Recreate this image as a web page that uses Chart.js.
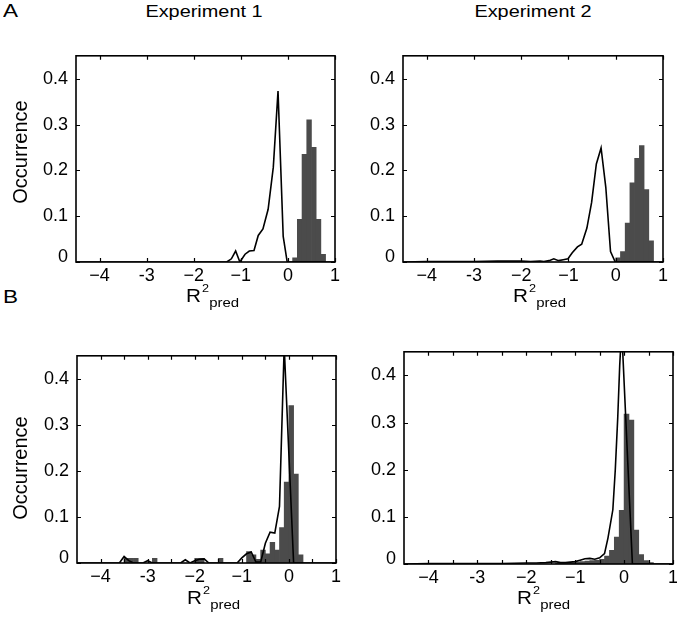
<!DOCTYPE html>
<html><head><meta charset="utf-8">
<script src="https://cdn.jsdelivr.net/npm/chart.js@4/dist/chart.umd.min.js"></script>
<style>
body{margin:0;width:677px;height:629px;background:#fff;position:relative;overflow:hidden;font-family:"Liberation Sans",Arial,sans-serif;color:#000}
.t{position:absolute;white-space:nowrap;line-height:1;transform-origin:left top}
.c{text-align:center;transform-origin:center top}
canvas{position:absolute}
.r2{position:absolute;white-space:nowrap;line-height:1;font-size:18px;transform:scaleX(1.15);transform-origin:left top}
.r2 .s{font-size:11px;position:relative;top:-10px;margin-left:1px}
.r2 .b{font-size:13px;position:relative;top:5px}
.occ{position:absolute;white-space:nowrap;line-height:1;font-size:20px;transform:rotate(-90deg);transform-origin:center center}
</style></head><body>
<script>
// ---------- data ----------
const xTickValues = [-4, -3, -2, -1, 0, 1];
const xTickLabels = ["\u22124", "-3", "\u22122", "\u22121", "0", "1"];
const yTickValues = [0, 0.1, 0.2, 0.3, 0.4];
const yTickLabels = ["0", "0.1", "0.2", "0.3", "0.4"];
const yLabelPositions = [0.011, 0.1, 0.2, 0.3, 0.4]; // the "0" label sits slightly above the axis line
const xMarksA = [-4, -3, -2, -1, 0, 1];
const xMarksB = [-4, -3.5, -3, -2.5, -2, -1.5, -1, -0.5, 0, 0.5, 1];

// Panel A, Experiment 1
const a1BarX = [0.15, 0.25, 0.35, 0.45, 0.55, 0.65, 0.75];
const a1BarY = [0.009, 0.093, 0.235, 0.31, 0.25, 0.093, 0.017];
const a1LineX = [-4.5, -1.3, -1.2, -1.11, -1.02, -0.91, -0.82, -0.72, -0.63, -0.53, -0.42, -0.31, -0.21, -0.1, -0.015, 1];
const a1LineY = [0, 0, 0.007, 0.024, 0, 0.017, 0.024, 0.025, 0.058, 0.072, 0.115, 0.207, 0.373, 0.056, 0, 0];

// Panel A, Experiment 2
const a2BarX = [0.05, 0.15, 0.25, 0.35, 0.45, 0.55, 0.65, 0.75];
const a2BarY = [0.009, 0.023, 0.085, 0.173, 0.226, 0.254, 0.158, 0.046];
const a2LineX = [-4.5, -4.0, -3.5, -3.0, -2.5, -2.0, -1.8, -1.6, -1.52, -1.41, -1.31, -1.21, -1.11, -1.01, -0.92, -0.81, -0.72, -0.61, -0.51, -0.41, -0.31, -0.21, -0.11, -0.01, 1];
const a2LineY = [0, 0.001, 0.001, 0.001, 0.002, 0.002, 0.001, 0.002, 0.001, 0.003, 0.007, 0.003, 0.005, 0.007, 0.02, 0.033, 0.039, 0.074, 0.13, 0.214, 0.249, 0.163, 0.023, 0, 0];

// Panel B, Experiment 1
const b1BarX = [-3.45, -3.35, -3.25, -2.85, -1.95, -1.85, -1.45, -0.85, -0.75, -0.65, -0.55, -0.45, -0.35, -0.25, -0.15, -0.05, 0.05, 0.15, 0.25];
const b1BarY = [0.01, 0.01, 0.01, 0.01, 0.01, 0.01, 0.01, 0.025, 0.018, 0.008, 0.028, 0.02, 0.045, 0.028, 0.077, 0.176, 0.342, 0.193, 0.018];
const b1LineX = [-4.5, -3.6, -3.5, -3.4, -3.3, -3.1, -3.0, -2.9, -2.3, -2.2, -2.1, -2.0, -1.9, -1.8, -1.7, -1.1, -1.0, -0.9, -0.8, -0.7, -0.6, -0.5, -0.4, -0.3, -0.2, -0.1, 0, 0.1, 1];
const b1LineY = [0, 0, 0.014, 0.005, 0, 0, 0.005, 0, 0, 0.007, 0, 0.005, 0.008, 0.009, 0, 0, 0.011, 0.02, 0.024, 0.002, 0.002, 0.043, 0.067, 0.065, 0.123, 0.47, 0.235, 0, 0];

// Panel B, Experiment 2
const b2BarX = [-1.35, -1.25, -1.15, -1.05, -0.95, -0.85, -0.75, -0.65, -0.55, -0.45, -0.35, -0.25, -0.15, -0.05, 0.05, 0.15, 0.25, 0.35, 0.45, 0.55];
const b2BarY = [0.002, 0.002, 0.003, 0.003, 0.004, 0.005, 0.006, 0.007, 0.008, 0.01, 0.017, 0.029, 0.057, 0.114, 0.318, 0.305, 0.072, 0.02, 0.007, 0.003];
const b2LineX = [-4.5, -4.0, -3.5, -3.0, -2.5, -2.0, -1.8, -1.6, -1.4, -1.3, -1.2, -1.1, -1.0, -0.9, -0.8, -0.7, -0.6, -0.5, -0.4, -0.33, -0.23, -0.18, -0.13, -0.09, -0.05, 0.17, 1];
const b2LineY = [0, 0.001, 0.001, 0.001, 0.001, 0.002, 0.002, 0.003, 0.005, 0.003, 0.003, 0.004, 0.005, 0.008, 0.011, 0.012, 0.01, 0.013, 0.022, 0.055, 0.115, 0.2, 0.31, 0.42, 0.5, 0, 0];

// ---------- layout ----------
const FONT = '"Liberation Sans", Arial, sans-serif';
const padL = 50, padT = 6, padR = 12, padB = 30;
const panels = [
  {box:[76, 43, 335, 262], bx:a1BarX, by:a1BarY, lx:a1LineX, ly:a1LineY, marks:xMarksA},
  {box:[403, 43, 663, 262], bx:a2BarX, by:a2BarY, lx:a2LineX, ly:a2LineY, marks:xMarksA},
  {box:[77, 343, 336, 563], bx:b1BarX, by:b1BarY, lx:b1LineX, ly:b1LineY, marks:xMarksB},
  {box:[404, 339, 673, 564], bx:b2BarX, by:b2BarY, lx:b2LineX, ly:b2LineY, marks:xMarksB}
];

const boxPlugin = {
  id: 'box',
  afterDatasetsDraw(chart, args, opts) {
    const {ctx, chartArea: {left, right, top, bottom}, scales: {x, y}} = chart;
    ctx.save();
    ctx.strokeStyle = '#000';
    ctx.lineWidth = 1.2;
    ctx.beginPath();
    opts.xMarks.forEach(v => {
      const px = Math.round(x.getPixelForValue(v)) + 0.5;
      ctx.moveTo(px, bottom); ctx.lineTo(px, bottom - 4);
      ctx.moveTo(px, top); ctx.lineTo(px, top + 4);
    });
    opts.yMarks.forEach(v => {
      const py = Math.round(y.getPixelForValue(v)) + 0.5;
      ctx.moveTo(left, py); ctx.lineTo(left + 4, py);
      ctx.moveTo(right, py); ctx.lineTo(right - 4, py);
    });
    ctx.stroke();
    ctx.lineWidth = 1.6;
    ctx.strokeRect(left, top, right - left, bottom - top);
    ctx.restore();
  }
};

panels.forEach(p => {
  const [L, T, R, B] = p.box;
  const W = (R - L) + padL + padR, H = (B - T) + padT + padB;
  const cv = document.createElement('canvas');
  cv.width = W; cv.height = H;
  cv.style.left = (L - padL) + 'px';
  cv.style.top = (T - padT) + 'px';
  cv.style.width = W + 'px'; cv.style.height = H + 'px';
  document.body.appendChild(cv);
  new Chart(cv, {
    data: {
      datasets: [
        {type: 'line', data: p.lx.map((v, i) => ({x: v, y: p.ly[i]})), borderColor: '#000', borderWidth: 1.6,
         pointRadius: 0, tension: 0, fill: false, order: 0},
        {type: 'bar', data: p.bx.map((v, i) => ({x: v, y: p.by[i]})), backgroundColor: '#4b4b4b',
         borderWidth: 0, barPercentage: 1, categoryPercentage: 1, order: 1}
      ]
    },
    options: {
      responsive: false, animation: false, devicePixelRatio: 1,
      layout: {padding: {left: 0, top: padT, right: padR, bottom: 0}},
      plugins: {legend: {display: false}, tooltip: {enabled: false}, box: {xMarks: p.marks, yMarks: yTickValues}},
      scales: {
        x: {type: 'linear', min: -4.5, max: 1, offset: false, bounds: 'ticks',
            afterBuildTicks: s => { s.ticks = xTickValues.map(v => ({value: v})); },
            afterFit: s => { s.height = padB; },
            ticks: {autoSkip: false, maxRotation: 0, padding: 3, color: '#000', font: {family: FONT, size: 18},
                    callback: (v, i) => xTickLabels[i]},
            grid: {display: false, drawTicks: false, offset: false}, border: {display: false}},
        y: {type: 'linear', min: 0, max: 0.45,
            afterBuildTicks: s => { s.ticks = yLabelPositions.map(v => ({value: v})); },
            afterFit: s => { s.width = padL; },
            ticks: {padding: 8, color: '#000', font: {family: FONT, size: 18},
                    callback: (v, i) => yTickLabels[i]},
            grid: {display: false, drawTicks: false}, border: {display: false}}
      }
    },
    plugins: [boxPlugin]
  });
});

// ---------- text ----------
function addText(html, cls, style) {
  const d = document.createElement('div');
  d.className = cls; d.innerHTML = html;
  Object.assign(d.style, style);
  document.body.appendChild(d);
}
addText('A', 't', {left: '3px', top: '2px', fontSize: '18px', transform: 'scaleX(1.25)'});
addText('B', 't', {left: '3px', top: '288px', fontSize: '18px', transform: 'scaleX(1.25)'});
addText('Experiment 1', 't c', {left: '104px', width: '200px', top: '3px', fontSize: '17px', transform: 'scaleX(1.17)'});
addText('Experiment 2', 't c', {left: '433px', width: '200px', top: '3px', fontSize: '17px', transform: 'scaleX(1.17)'});
addText('Occurrence', 'occ', {left: '-40px', top: '142px', width: '120px', textAlign: 'center'});
addText('Occurrence', 'occ', {left: '-40px', top: '458px', width: '120px', textAlign: 'center'});
const r2 = 'R<span class="s">2</span><span class="b">pred</span>';
addText(r2, 'r2', {left: '186px', top: '287px'});
addText(r2, 'r2', {left: '513px', top: '287px'});
addText(r2, 'r2', {left: '187px', top: '589px'});
addText(r2, 'r2', {left: '517px', top: '589px'});
</script>
</body></html>
